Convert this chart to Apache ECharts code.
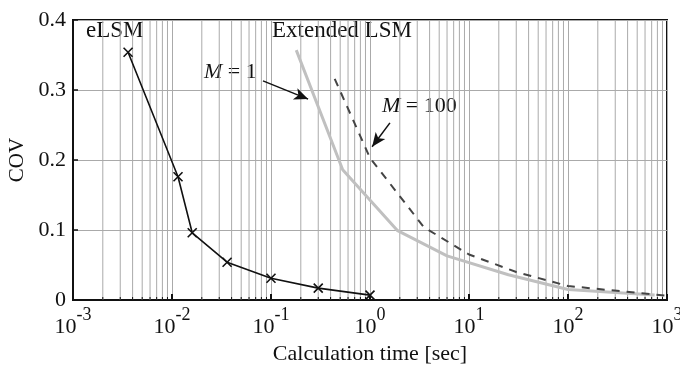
<!DOCTYPE html>
<html>
<head>
<meta charset="utf-8">
<script src="https://cdn.jsdelivr.net/npm/echarts@6/dist/echarts.min.js"></script>
<style>
    html, body {margin:0;padding:0;background:#fff}
    #chart {width:680px;height:365px}
</style>
</head>
<body>
<div id="chart"></div>
<script>
    // eLSM (black, x markers)
    var elsmTime = [0.0036, 0.0115, 0.016, 0.036, 0.1, 0.3, 1.0];
    var elsmCov  = [0.354, 0.176, 0.096, 0.054, 0.031, 0.017, 0.007];
    // Extended LSM, M = 1 (light gray)
    var m1Time = [0.18, 0.53, 1.9, 6.0, 25, 100, 750];
    var m1Cov  = [0.357, 0.186, 0.099, 0.063, 0.036, 0.015, 0.007];
    // Extended LSM, M = 100 (dashed)
    var m100Time = [0.44, 1.0, 3.5, 10, 30, 100, 1000];
    var m100Cov  = [0.316, 0.203, 0.104, 0.065, 0.040, 0.020, 0.006];

    var yTicks = [0, 0.1, 0.2, 0.3, 0.4];
    var decades = [-3, -2, -1, 0, 1, 2, 3];

    // minor log grid lines 2..9 x 10^k
    var minorVals = [];
    for (var k = -3; k < 3; k++) {
        for (var m = 2; m <= 9; m++) minorVals.push([m * Math.pow(10, k)]);
    }

    function pairs(xs, ys) {
        return xs.map(function (x, i) { return [x, ys[i]]; });
    }

    var font = 'Liberation Serif';
    var chart = echarts.init(document.getElementById('chart'));

    var option = {
        animation: false,
        textStyle: {fontFamily: font},
        grid: {left: 73, right: 13, top: 20, bottom: 65, outerBoundsMode: 'none',
               show: true, borderColor: '#111', borderWidth: 2},
        xAxis: {
            type: 'log', logBase: 10,
            min: Math.pow(10, decades[0]), max: Math.pow(10, decades[decades.length - 1]),
            name: 'Calculation time [sec]', nameLocation: 'middle', nameGap: 38,
            nameTextStyle: {fontFamily: font, fontSize: 22, color: '#111'},
            axisLine: {lineStyle: {color: '#111', width: 2}},
            axisTick: {inside: true, length: 6, lineStyle: {color: '#111', width: 2}},
            splitLine: {show: true, lineStyle: {color: '#aaa', width: 1}},
            axisLabel: {
                margin: 6,
                formatter: function (v) {
                    var e = Math.round(Math.log10(v));
                    return '{b|10}{s|' + e + '}';
                },
                rich: {
                    b: {fontFamily: font, fontSize: 22, color: '#111', lineHeight: 32, verticalAlign: 'bottom'},
                    s: {fontFamily: font, fontSize: 18, color: '#111', lineHeight: 18, verticalAlign: 'top'}
                }
            }
        },
        yAxis: {
            type: 'value', min: yTicks[0], max: yTicks[yTicks.length - 1], interval: 0.1,
            name: 'COV', nameLocation: 'middle', nameGap: 43, nameRotate: 90,
            nameTextStyle: {fontFamily: font, fontSize: 21, color: '#111'},
            axisLine: {show: true, lineStyle: {color: '#111', width: 2}},
            axisTick: {show: true, inside: true, length: 5, lineStyle: {color: '#111', width: 1.5}},
            splitLine: {show: true, lineStyle: {color: '#aaa', width: 1}},
            axisLabel: {fontFamily: font, fontSize: 22, color: '#111', margin: 7,
                formatter: function (v) { return String(Math.round(v * 10) / 10); }}
        },
        graphic: [
            {type: 'text', left: 86, top: 19, style: {text: 'eLSM', font: '23px "Liberation Serif"', fill: '#111'}},
            {type: 'text', left: 272, top: 19, style: {text: 'Extended LSM', font: '23px "Liberation Serif"', fill: '#111'}},
            {type: 'text', left: 204, top: 61, style: {
                rich: {i: {font: 'italic 22px "Liberation Serif"', fill: '#111'}, n: {font: '22px "Liberation Serif"', fill: '#111'}},
                text: '{i|M}{n| = 1}'}},
            {type: 'text', left: 382, top: 95, style: {
                rich: {i: {font: 'italic 22px "Liberation Serif"', fill: '#111'}, n: {font: '22px "Liberation Serif"', fill: '#111'}},
                text: '{i|M}{n| = 100}'}}
        ],
        series: [
            {
                type: 'custom', silent: true, z: 1,
                data: minorVals,
                encode: {x: 0},
                renderItem: function (params, api) {
                    var top = api.coord([api.value(0), yTicks[yTicks.length - 1]]);
                    var bot = api.coord([api.value(0), yTicks[0]]);
                    return {type: 'group', children: [
                        {type: 'line', shape: {x1: bot[0], y1: bot[1], x2: top[0], y2: top[1]},
                         style: {stroke: '#aaa', lineWidth: 1}},
                        {type: 'line', shape: {x1: bot[0], y1: bot[1], x2: bot[0], y2: bot[1] - 3},
                         style: {stroke: '#111', lineWidth: 1}}
                    ]};
                }
            },
            {
                name: 'M=1', type: 'line', data: pairs(m1Time, m1Cov),
                symbol: 'none', z: 3,
                lineStyle: {color: '#c0c0c0', width: 3}
            },
            {
                name: 'M=100', type: 'line', data: pairs(m100Time, m100Cov),
                symbol: 'none', z: 4,
                lineStyle: {color: '#444', width: 2, type: [8, 7]},
                markLine: {
                    silent: true, symbol: ['none', 'arrow'], symbolSize: [9, 14],
                    label: {show: false},
                    lineStyle: {color: '#111', width: 1.5, type: 'solid'},
                    data: [
                        [{coord: [0.083, 0.313]}, {coord: [0.237, 0.287]}],
                        [{coord: [1.59, 0.253]}, {coord: [1.05, 0.219]}]
                    ]
                }
            },
            {
                name: 'eLSM', type: 'line', data: pairs(elsmTime, elsmCov), z: 5,
                symbol: 'path://M0,0L10,10M10,0L0,10', symbolSize: 9,
                itemStyle: {color: 'none', borderColor: '#111', borderWidth: 1.6},
                lineStyle: {color: '#111', width: 1.6}
            }
        ]
    };
    chart.setOption(option);
</script>
</body>
</html>
